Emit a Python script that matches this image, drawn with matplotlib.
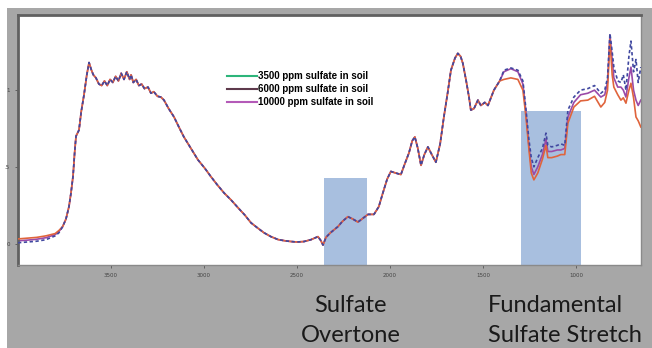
import matplotlib.pyplot as plt
from matplotlib.lines import Line2D
from matplotlib.patches import Rectangle

# wavenumbers (cm-1) of the shared part of the spectrum
wn_start = [4000, 3950, 3900, 3850, 3800, 3780]
start_3500 = [0.005, 0.010, 0.015, 0.025, 0.050, 0.070]
start_6000 = [0.018, 0.022, 0.028, 0.038, 0.058, 0.078]
start_10000 = [0.030, 0.035, 0.040, 0.050, 0.065, 0.085]

wn_mid = [3760, 3742, 3726, 3715, 3704, 3695, 3688, 3680, 3672, 3660, 3645, 3630,
          3618, 3605, 3595, 3581, 3565, 3550, 3535, 3520, 3505, 3490, 3475, 3460,
          3445, 3430, 3415, 3400, 3392, 3380, 3365, 3350, 3335, 3320, 3301, 3285,
          3270, 3250, 3232, 3215, 3190, 3161, 3135, 3108, 3070, 3032, 2995, 2962,
          2930, 2892, 2855, 2818, 2780, 2747, 2710, 2677, 2640, 2602, 2565, 2532,
          2500, 2462, 2425, 2387, 2372, 2360, 2344, 2320, 2300, 2280, 2255, 2226,
          2200, 2172, 2145, 2118, 2086, 2060, 2038, 2015, 1995, 1970, 1941, 1920,
          1898, 1880, 1866, 1850, 1833, 1815, 1796, 1775, 1753, 1730, 1710, 1690,
          1672, 1650, 1635, 1620, 1608, 1590, 1575, 1565, 1548, 1527, 1511, 1490,
          1473, 1441, 1410]
abs_mid = [0.11, 0.16, 0.24, 0.33, 0.44, 0.60, 0.70, 0.72, 0.74, 0.86, 0.97, 1.10,
           1.18, 1.13, 1.10, 1.08, 1.04, 1.03, 1.06, 1.03, 1.07, 1.05, 1.09, 1.06,
           1.11, 1.07, 1.12, 1.07, 1.10, 1.05, 1.07, 1.03, 1.04, 1.01, 1.02, 0.98,
           0.99, 0.96, 0.955, 0.935, 0.88, 0.825, 0.76, 0.695, 0.62, 0.545, 0.49, 0.435,
           0.385, 0.33, 0.285, 0.235, 0.185, 0.135, 0.10, 0.07, 0.045, 0.026, 0.018, 0.013,
           0.010, 0.013, 0.025, 0.045, 0.02, -0.01, 0.04, 0.07, 0.09, 0.11, 0.145, 0.175,
           0.16, 0.14, 0.165, 0.19, 0.19, 0.24, 0.33, 0.42, 0.47, 0.46, 0.45, 0.52,
           0.59, 0.67, 0.695, 0.62, 0.51, 0.58, 0.63, 0.58, 0.53, 0.65, 0.825, 0.98,
           1.13, 1.21, 1.24, 1.22, 1.175, 1.06, 0.955, 0.87, 0.88, 0.935, 0.90, 0.92,
           0.90, 1.00, 1.06]

# fingerprint / sulfate region, where the three samples split apart
wn_end = [1387, 1350, 1312, 1285, 1269, 1253, 1240, 1226, 1205, 1180, 1161, 1151,
          1130, 1100, 1081, 1060, 1043, 1011, 975, 936, 900, 866, 845, 830,
          817, 805, 796, 775, 758, 745, 731, 715, 704, 690, 677, 665, 651]
end_3500 = [1.13, 1.145, 1.13, 1.06, 0.88, 0.68, 0.56, 0.50, 0.56, 0.62, 0.72, 0.64,
            0.63, 0.64, 0.65, 0.64, 0.87, 0.955, 1.00, 1.01, 1.03, 0.98, 1.00, 1.08,
            1.37, 1.25, 1.15, 1.06, 1.05, 1.10, 1.00, 1.22, 1.32, 1.12, 1.20, 1.05, 1.15]
end_6000 = [1.12, 1.14, 1.12, 1.04, 0.86, 0.64, 0.50, 0.45, 0.50, 0.58, 0.68, 0.60,
            0.60, 0.61, 0.61, 0.62, 0.825, 0.92, 0.97, 0.98, 1.00, 0.955, 0.97, 1.05,
            1.36, 1.20, 1.08, 1.02, 1.02, 1.00, 0.955, 1.08, 1.15, 1.00, 0.935, 0.90, 0.935]
end_10000 = [1.07, 1.08, 1.07, 1.00, 0.83, 0.62, 0.46, 0.415, 0.46, 0.55, 0.64, 0.56,
             0.56, 0.57, 0.58, 0.58, 0.785, 0.89, 0.93, 0.935, 0.96, 0.89, 0.92, 1.00,
             1.33, 1.10, 1.02, 0.97, 0.935, 0.95, 0.915, 1.00, 1.045, 0.95, 0.825, 0.80, 0.76]

labels = ['3500 ppm sulfate in soil', '6000 ppm sulfate in soil', '10000 ppm sulfate in soil']
legend_colors = ['#2db57a', '#5e3a4c', '#b45ab8']

# highlighted bands: (high wavenumber, low wavenumber, top)
band_hi = [2355, 1296]
band_lo = [2124, 973]
band_top = [0.43, 0.865]

fig = plt.figure(figsize=(6.52, 3.48), dpi=100)
fig.patch.set_facecolor('white')
fig.patches.append(Rectangle((7 / 652, 0), 1, 340 / 348, transform=fig.transFigure,
                             facecolor='#a7a7a7', edgecolor='none', zorder=-10))

ax = fig.add_axes([18 / 652, 83 / 348, 623 / 652, 250 / 348])
ax.set_facecolor('white')

for hi, lo, top in zip(band_hi, band_lo, band_top):
    ax.add_patch(Rectangle((lo, -0.14), hi - lo, top + 0.14, facecolor='#a8bfdf',
                           edgecolor='none', zorder=1))

wn = wn_start + wn_mid + wn_end
ax.plot(wn, start_6000 + abs_mid + end_6000, color='#9a4aa8', lw=1.2, zorder=2)
ax.plot(wn, start_10000 + abs_mid + end_10000, color='#e0643c', lw=1.2, zorder=3)
ax.plot(wn, start_3500 + abs_mid + end_3500, color='#4048a0', lw=1.2, zorder=4,
        ls=(0, (2, 1.5)))

ax.set_xlim(4000, 650)
ax.set_ylim(-0.14, 1.49)
ax.set_xticks([3500, 3000, 2500, 2000, 1500, 1000])
ax.set_yticks([0, 0.5, 1])
ax.set_yticklabels(['0', '.5', '1'])
ax.tick_params(labelsize=4, length=2, width=0.5, colors='#444444', pad=4)

for side in ['top', 'left']:
    ax.spines[side].set_color('#606060')
    ax.spines[side].set_linewidth(2)
for side in ['bottom', 'right']:
    ax.spines[side].set_color('#8a8a8a')
    ax.spines[side].set_linewidth(1)

handles = [Line2D([], [], color=c, lw=1.5) for c in legend_colors]
ax.legend(handles, labels, loc='upper left', bbox_to_anchor=(0.335, 0.775),
          frameon=False, borderpad=0, borderaxespad=0, handlelength=3.1,
          handletextpad=0.1, labelspacing=0.3,
          prop={'family': 'Liberation Sans', 'weight': 'bold', 'size': 7})

txt = dict(family='Lato', size=17, color='#1a1a1a', va='baseline')
fig.text(350 / 652, 1 - 312 / 348, 'Sulfate', ha='center', **txt)
fig.text(351 / 652, 1 - 342 / 348, 'Overtone', ha='center', **txt)
fig.text(488 / 652, 1 - 312 / 348, 'Fundamental', ha='left', **txt)
fig.text(488 / 652, 1 - 342 / 348, 'Sulfate Stretch', ha='left', **txt)

fig.savefig('out.png', dpi=100)
